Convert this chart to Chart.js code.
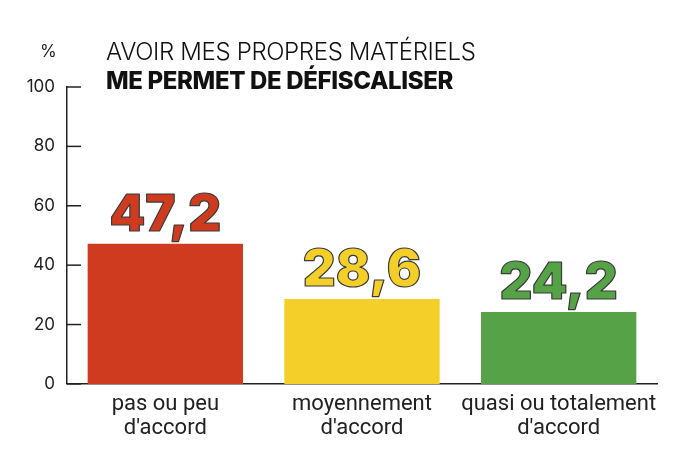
<!DOCTYPE html>
<html>
<head>
<meta charset="utf-8">
<script src="https://cdn.jsdelivr.net/npm/chart.js@4"></script>
<style>
  html, body { margin: 0; padding: 0; background: #fff; }
  #wrap { position: relative; width: 700px; height: 467px; }
  #title { position: absolute; left: 106px; top: 37px; font-family: Inter, sans-serif; font-size: 24px; line-height: 29px; color: #111; letter-spacing: -0.35px; }
  #title .l1 { font-weight: 300; }
  #title .l2 { font-weight: 800; }
  #unit { position: absolute; left: 40px; top: 41px; font-family: Inter, sans-serif; font-size: 17px; color: #222; }
</style>
</head>
<body>
<div id="wrap">
  <canvas id="myChart" width="700" height="467"></canvas>
  <div id="title"><div class="l1">AVOIR MES PROPRES MATÉRIELS</div><div class="l2">ME PERMET DE DÉFISCALISER</div></div>
  <div id="unit">%</div>
</div>
<script>
var categories = [['pas ou peu', "d'accord"], ['moyennement', "d'accord"], ['quasi ou totalement', "d'accord"]];
var values = [47.2, 28.6, 24.2];
var valueLabels = ['47,2', '28,6', '24,2'];
var barColors = ['#CF3B1F', '#F4CF2A', '#55A346'];
var yTicks = [0, 20, 40, 60, 80, 100];

// short tick marks pointing into the plot, plus big outlined values
var decor = {
  id: 'decor',
  afterDatasetsDraw: function(chart) {
    var ctx = chart.ctx;
    var y = chart.scales.y;
    ctx.save();
    ctx.strokeStyle = '#222';
    ctx.lineWidth = 1.5;
    yTicks.forEach(function(v) {
      var py = y.getPixelForValue(v);
      ctx.beginPath();
      ctx.moveTo(y.right, py);
      ctx.lineTo(y.right + 14, py);
      ctx.stroke();
    });
    var meta = chart.getDatasetMeta(0);
    ctx.font = '900 51px Inter, sans-serif';
    ctx.textAlign = 'center';
    ctx.textBaseline = 'alphabetic';
    ctx.lineJoin = 'round';
    meta.data.forEach(function(bar, i) {
      ctx.fillStyle = barColors[i];
      ctx.fillText(valueLabels[i], bar.x, bar.y - 13);
      ctx.strokeStyle = '#3a3a3a';
      ctx.lineWidth = 1.2;
      ctx.strokeText(valueLabels[i], bar.x, bar.y - 13);
    });
    ctx.restore();
  }
};

var ctx = document.getElementById('myChart').getContext('2d');
new Chart(ctx, {
  type: 'bar',
  data: {
    labels: categories,
    datasets: [{
      data: values,
      backgroundColor: barColors,
      borderWidth: 0,
      categoryPercentage: 1,
      barPercentage: 0.79
    }]
  },
  options: {
    responsive: false,
    animation: false,
    layout: { padding: { top: 87, right: 43, bottom: 18, left: 0 } },
    plugins: { legend: { display: false }, tooltip: { enabled: false } },
    scales: {
      x: {
        grid: { display: false, drawTicks: false },
        border: { display: true, color: '#222', width: 1.5 },
        ticks: {
          color: '#222',
          padding: 9,
          maxRotation: 0,
          autoSkip: false,
          font: { family: "'Liberation Sans Narrow', Roboto, sans-serif", size: 22, lineHeight: 1.07 }
        }
      },
      y: {
        min: 0,
        max: 100,
        afterFit: function(s) { s.width = 67; },
        afterBuildTicks: function(s) { s.ticks = yTicks.map(function(v) { return { value: v }; }); },
        grid: { display: false, drawTicks: false },
        border: { display: true, color: '#222', width: 1.5 },
        ticks: {
          color: '#222',
          padding: 12,
          font: { family: 'Inter, sans-serif', size: 17 }
        }
      }
    }
  },
  plugins: [decor]
});
</script>
</body>
</html>
